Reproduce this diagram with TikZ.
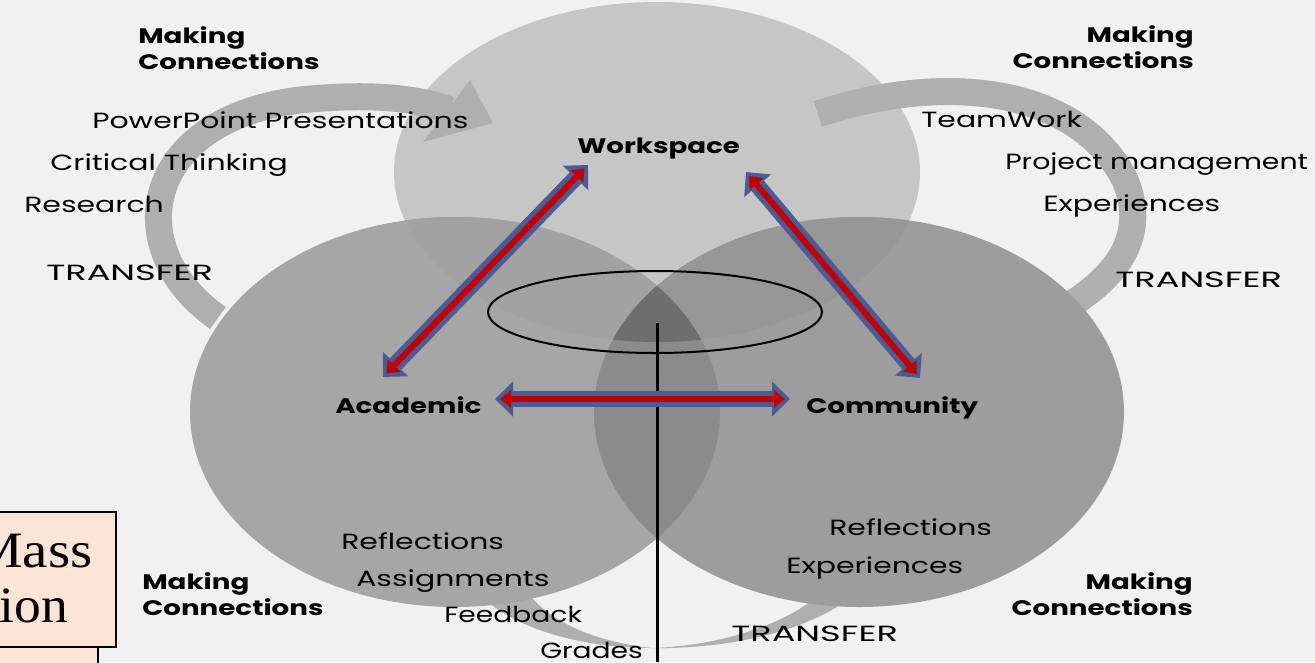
\documentclass[tikz,border=0pt]{standalone}
\usepackage{fontspec}
\setmainfont{Poppins}
\newfontfamily\boxserif{Liberation Serif}
\usetikzlibrary{arrows.meta}
\definecolor{bg}{HTML}{F1F1F1}
\definecolor{wsfill}{HTML}{C6C6C6}
\definecolor{acfill}{HTML}{A6A6A6}
\definecolor{cofill}{HTML}{9D9D9D}
\definecolor{wafill}{HTML}{A2A2A2}
\definecolor{wcfill}{HTML}{979797}
\definecolor{acofill}{HTML}{8B8B8B}
\definecolor{allfill}{HTML}{6E6E6E}
\definecolor{bandgray}{HTML}{AFAFAF}
\definecolor{arrblue}{HTML}{4A5C93}
\definecolor{arrred}{HTML}{C00000}
\definecolor{peach}{HTML}{FCE4D6}
\tikzset{
  wspath/.style={insert path={(657,172) ellipse [x radius=263, y radius=170]}},
  acpath/.style={insert path={(455,412) ellipse [x radius=265, y radius=195]}},
  copath/.style={insert path={(859,412) ellipse [x radius=265, y radius=195]}},
  band/.style={draw=bandgray, line width=27pt},
  bluearr/.style={draw=arrblue, line width=16pt,
    {Triangle[length=18pt,width=34pt]}-{Triangle[length=18pt,width=34pt]}},
  redarr/.style={draw=arrred, line width=6pt, shorten <=5pt, shorten >=5pt,
    {Triangle[length=11pt,width=17pt]}-{Triangle[length=11pt,width=17pt]}},
  lbl/.style={anchor=base west, inner sep=0pt, xscale=1.36,
    font=\fontsize{22}{26}\selectfont},
  caps/.style={lbl, xscale=1.6/1.36},
  narrow/.style={lbl, xscale=1.28/1.36},
  tight/.style={lbl, xscale=1.29/1.36},
  blbl/.style={anchor=base west, inner sep=0pt, xscale=1.32,
    font=\fontsize{21}{26}\selectfont\bfseries},
  mcl/.style={blbl, align=left},
  mcr/.style={blbl, anchor=base east, align=right},
}
\begin{document}
\begin{tikzpicture}[x=1pt,y=-1pt]
\useasboundingbox (0,0) rectangle (1315,662);
\clip (0,0) rectangle (1315,662);
\fill[bg] (0,0) rectangle (1315,662);
% Workspace circle
\fill[wsfill, wspath];
% curved bands
\draw[band] (218,318) .. controls (120,250) and (140,120) .. (300,100)
  .. controls (380,92) and (420,100) .. (450,110);
\fill[bandgray] (470,80) -- (493,123) -- (423,142) -- cycle;
\draw[band] (818,114) .. controls (950,70) and (1080,90) .. (1125,180)
  .. controls (1150,240) and (1110,280) .. (1070,305);
\fill[bandgray] (458,556) .. controls (470,615) and (560,648) .. (652,648)
  .. controls (580,640) and (520,610) .. (512,556) -- cycle;
\fill[bandgray] (652,648) .. controls (740,645) and (835,610) .. (850,548)
  -- (882,548) .. controls (875,612) and (760,650) .. (652,648) -- cycle;
% Academic and Community circles
\fill[acfill, acpath];
\fill[cofill, copath];
\begin{scope}\clip[acpath]; \fill[wafill, wspath];\end{scope}
\begin{scope}\clip[copath]; \fill[wcfill, wspath];\end{scope}
\begin{scope}\clip[acpath]; \fill[acofill, copath];\end{scope}
\begin{scope}\clip[acpath]; \clip[copath]; \fill[allfill, wspath];\end{scope}
% ellipse and vertical line
\draw[line width=2pt] (655,312) ellipse [x radius=167, y radius=41];
\coordinate (vtop) at (657,323);
\coordinate (vbot) at (657,662);
\draw[line width=3pt] (vtop) -- (vbot);
% double arrows
\coordinate (awA) at (383,377); \coordinate (awW) at (588,165);
\coordinate (wcW) at (746,172); \coordinate (wcC) at (920,378);
\coordinate (acA) at (495,399); \coordinate (acC) at (790,399);
\draw[bluearr] (awA) -- (awW); \draw[redarr] (awA) -- (awW);
\draw[bluearr] (wcW) -- (wcC); \draw[redarr] (wcW) -- (wcC);
\draw[bluearr] (acA) -- (acC); \draw[redarr] (acA) -- (acC);
% bold labels
\node[blbl] (ws) at (577,153) {Workspace};
\node[blbl] (ac) at (335,413) {Academic};
\node[blbl] (co) at (806,413) {Community};
\node[mcl] (mc1) at (138,69) {Making\\Connections};
\node[mcr] (mc2) at (1194,68) {Making\\Connections};
\node[mcl] (mc3) at (142,615) {Making\\Connections};
\node[mcr] (mc4) at (1193,615) {Making\\Connections};
% regular labels
\node[lbl] (t1) at (92,128) {PowerPoint Presentations};
\node[lbl] (t2) at (50,170) {Critical Thinking};
\node[lbl] (t3) at (24,212) {Research};
\node[caps] (t4) at (46,280) {TRANSFER};
\node[lbl] (t5) at (921,127) {TeamWork};
\node[tight] (t6) at (1005,169) {Project management};
\node[lbl] (t7) at (1043,211) {Experiences};
\node[caps] (t8) at (1115,287) {TRANSFER};
\node[lbl] (t9) at (341,549) {Reflections};
\node[lbl] (t10) at (356,586) {Assignments};
\node[narrow] (t11) at (444,622) {Feedback};
\node[narrow] (t12) at (540,658) {Grades};
\node[lbl] (t13) at (829,535) {Reflections};
\node[lbl] (t14) at (786,573) {Experiences};
\node[caps] (t15) at (731,641) {TRANSFER};
% cut-off box at bottom left
\fill[peach] (-5,647) rectangle (98,670);
\coordinate (lbtop) at (98,647); \coordinate (lbbot) at (98,670);
\draw[line width=1.5pt] (lbtop) -- (lbbot);
\draw[line width=1.8pt, fill=peach] (-5,512) rectangle (116,647);
\node[anchor=base east, inner sep=0pt, xscale=1.12, font=\boxserif\fontsize{51}{55}\selectfont] (bx1) at (93,567) {Mass};
\node[anchor=base east, inner sep=0pt, xscale=1.05, font=\boxserif\fontsize{51}{55}\selectfont] (bx2) at (68,622) {ion};
\end{tikzpicture}
\end{document}
